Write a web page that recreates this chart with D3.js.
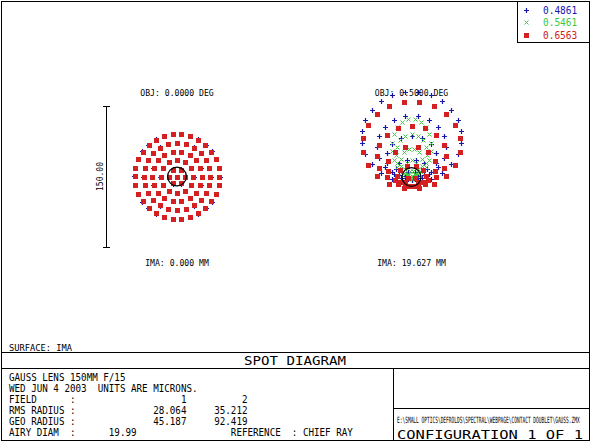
<!DOCTYPE html>
<html><head><meta charset="utf-8">
<script src="https://cdn.jsdelivr.net/npm/d3@7"></script>
<style>
html,body{margin:0;padding:0;background:#fff;}
svg{display:block;}
text{font-family:"DejaVu Sans Mono",monospace;}
</style></head><body>
<svg id="c" width="592" height="442"></svg>
<script>
// ---------------- DATA ----------------
const wavelengths = ["0.4861", "0.5461", "0.6563"];
const waveColors = ["#1818b0", "#40c840", "#d42020"];
const waveSymbols = ["plus", "cross", "square"];
const fieldNumbers = [1, 2];
const objLabels = ["OBJ: 0.0000 DEG", "OBJ: 0.5000 DEG"];
const imaLabels = ["IMA: 0.000 MM", "IMA: 19.627 MM"];
const rmsRadius = ["28.064", "35.212"];
const geoRadius = ["45.187", "92.419"];
const airyDiam = "19.99";
const scaleBarMicrons = 150;
const titleLines = ["GAUSS LENS 150MM F/15", "WED JUN 4 2003  UNITS ARE MICRONS."];
const referenceText = "REFERENCE  : CHIEF RAY";
const surfaceText = "SURFACE: IMA";
const plotTitle = "SPOT DIAGRAM";
const fileText = "E:\\SMALL OPTICS\\DEFROLDS\\SPECTRAL\\WEBPAGE\\CONTACT DOUBLET\\GAUSS.ZMX";
const configText = "CONFIGURATION 1 OF 1";

// Spot rings, in microns relative to the chief ray
// [centre dx, centre dy (up), radius x, radius y, number of rays, half-step offset]
const field1Blue  = [[0,0,0,0,1,0],[0,0,8.7,8.7,6,0],[0,0,17.8,17.8,12,0],[0,0,26.9,26.9,18,0],[0,0,35.7,35.7,24,0],[0,0,45.5,45.5,30,0]];
const field1Green = [[0,0,0,0,1,0],[0,0,8.5,8.5,6,0],[0,0,17.5,17.5,12,0],[0,0,26.6,26.6,18,0],[0,0,35.4,35.4,24,0],[0,0,45.2,45.2,30,0]];
const field1Red   = [[0,0,0,0,1,0],[0,0,8.5,8.5,6,0],[0,0,17.5,17.5,12,0],[0,0,26.6,26.6,18,0],[0,0,35.4,35.4,24,0],[0,0,45.2,45.2,30,0]];

const field2Blue  = [[0,-3.2,0,0,1,0],[0,1.1,6.4,4.3,6,0],[0,8.5,16.0,10.6,10,0],[0,20.2,26.6,23.4,14,0.5],[0,31.9,37.2,33.0,18,0],[0,42.6,53.2,47.9,24,0.5]];
const field2Green = [[0,-2.1,0,0,1,0],[0,2.7,3.7,4.8,6,0],[0,8.5,7.4,9.6,8,0],[0,15.4,11.7,15.4,12,0.5],[0,23.4,17.0,22.3,16,0],[0,31.9,21.3,29.8,20,0.5]];
const field2Red   = [[0,-9.6,0,0,1,0],[0,-5.3,7.4,5.3,6,0],[0,1.1,14.9,11.7,10,0],[0,11.7,25.5,21.3,12,0.5],[0,22.3,37.2,31.9,16,0],[0,34.0,52.1,46.8,20,0.5]];

const spotFields = [
  [field1Blue, field1Green, field1Red],
  [field2Blue, field2Green, field2Red]
];

// ---------------- LAYOUT ----------------
const svg = d3.select("#c");
const fieldCentres = [{x: 177, y: 176.5}, {x: 411.5, y: 177}];
const halfPx = 70.5; // pixels for half of the scale bar

function monoText(sel, str, x, y, size, cw, opts = {}) {
  const sx = cw / (0.602 * size);
  const sy = opts.sy || 1;
  const t = sel.append("text")
    .attr("transform", `translate(${x},${y}) scale(${sx},${sy})`)
    .attr("font-size", size)
    .attr("fill", opts.fill || "#000")
    .text(str);
  if (opts.anchor) t.attr("text-anchor", opts.anchor);
  return t;
}

// frame
const frame = svg.append("g").attr("stroke", "#000").attr("stroke-width", 1).attr("fill", "none")
  .attr("shape-rendering", "crispEdges");
frame.append("rect").attr("x", 1.5).attr("y", 1.5).attr("width", 588).attr("height", 439);
frame.append("line").attr("x1", 517.5).attr("x2", 517.5).attr("y1", 1.5).attr("y2", 42.5);
frame.append("line").attr("x1", 517.5).attr("x2", 589.5).attr("y1", 42.5).attr("y2", 42.5);
frame.append("line").attr("x1", 1.5).attr("x2", 589.5).attr("y1", 352.5).attr("y2", 352.5);
frame.append("line").attr("x1", 1.5).attr("x2", 589.5).attr("y1", 368.5).attr("y2", 368.5);
frame.append("line").attr("x1", 393.5).attr("x2", 393.5).attr("y1", 368.5).attr("y2", 440.5);
frame.append("line").attr("x1", 393.5).attr("x2", 589.5).attr("y1", 408.5).attr("y2", 408.5);

// symbol drawing
function drawSymbol(g, kind, x, y, color) {
  const px = Math.round(x) + 0.5, py = Math.round(y) + 0.5;
  if (kind === "plus") {
    g.append("path").attr("d", `M${px-2.5},${py}H${px+2.5}M${px},${py-2.5}V${py+2.5}`)
      .attr("stroke", color).attr("stroke-width", 1.2).attr("fill", "none");
  } else if (kind === "cross") {
    g.append("path").attr("d", `M${px-2},${py-2}L${px+2},${py+2}M${px-2},${py+2}L${px+2},${py-2}`)
      .attr("stroke", color).attr("stroke-width", 1).attr("fill", "none");
  } else {
    g.append("rect").attr("x", px - 2.5).attr("y", py - 2.5).attr("width", 5).attr("height", 5)
      .attr("fill", color);
  }
}

// spots
const spotsG = svg.append("g");
const scales = fieldCentres.map(c => ({
  x: d3.scaleLinear().domain([-scaleBarMicrons / 2, scaleBarMicrons / 2]).range([c.x - halfPx, c.x + halfPx]),
  y: d3.scaleLinear().domain([-scaleBarMicrons / 2, scaleBarMicrons / 2]).range([c.y + halfPx, c.y - halfPx])
}));

for (let w = 0; w < wavelengths.length; w++) {
  spotFields.forEach((fieldRings, f) => {
    const sc = scales[f];
    fieldRings[w].forEach(r => {
      const [dx, dy, rx, ry, n, off] = r;
      for (let k = 0; k < n; k++) {
        const a = (k + off) * 2 * Math.PI / n;
        const ux = dx + rx * Math.cos(a);
        const uy = dy + ry * Math.sin(a);
        drawSymbol(spotsG, waveSymbols[w], sc.x(ux), sc.y(uy), waveColors[w]);
      }
    });
  });
}

// airy circles
fieldCentres.forEach((c, f) => {
  const sc = scales[f];
  svg.append("circle").attr("cx", sc.x(0)).attr("cy", sc.y(0))
    .attr("r", sc.x(+airyDiam / 2) - sc.x(0))
    .attr("fill", "none").attr("stroke", "#000").attr("stroke-width", 1.3);
});

// field labels
fieldCentres.forEach((c, f) => {
  monoText(svg, objLabels[f], c.x, 96, 9, 4.9, {anchor: "middle"});
  monoText(svg, imaLabels[f], c.x, 265.5, 9, 4.9, {anchor: "middle"});
});

// scale bar
const sb = svg.append("g").attr("stroke", "#000").attr("stroke-width", 1).attr("shape-rendering", "crispEdges");
const sy = scales[0].y;
sb.append("line").attr("x1", 106.5).attr("x2", 106.5).attr("y1", sy(scaleBarMicrons / 2)).attr("y2", sy(-scaleBarMicrons / 2));
sb.append("line").attr("x1", 103).attr("x2", 110).attr("y1", Math.round(sy(scaleBarMicrons / 2)) + 0.5).attr("y2", Math.round(sy(scaleBarMicrons / 2)) + 0.5);
sb.append("line").attr("x1", 103).attr("x2", 110).attr("y1", Math.round(sy(-scaleBarMicrons / 2)) + 0.5).attr("y2", Math.round(sy(-scaleBarMicrons / 2)) + 0.5);
svg.append("text")
  .attr("transform", `translate(103,${sy(0)}) rotate(-90) scale(0.9,1)`)
  .attr("font-size", 9).attr("text-anchor", "middle")
  .text(d3.format(".2f")(scaleBarMicrons));

// legend
wavelengths.forEach((wl, i) => {
  const y = [10, 22, 35][i];
  drawSymbol(svg, waveSymbols[i], 526, y, waveColors[i]);
  monoText(svg, wl, 543, y + 4, 10, 5.7, {fill: waveColors[i]});
});

// bottom texts
monoText(svg, surfaceText, 9, 350.5, 8.7, 5.25);
svg.append("text").attr("x", 244).attr("y", 364.5).attr("font-size", 12)
  .attr("textLength", 102).attr("lengthAdjust", "spacingAndGlyphs").text(plotTitle);

const cw = 5.55, x0 = 9;
const lines = [
  titleLines[0],
  titleLines[1],
  "FIELD      :" + fieldNumbers.map((v, i) => String(v).padStart(i === 0 ? 20 : 11)).join(""),
  "RMS RADIUS :" + rmsRadius.map((v, i) => v.padStart(i === 0 ? 20 : 11)).join(""),
  "GEO RADIUS :" + geoRadius.map((v, i) => v.padStart(i === 0 ? 20 : 11)).join(""),
  "AIRY DIAM  :      " + airyDiam + " ".repeat(17) + referenceText
];
lines.forEach((s, i) => {
  monoText(svg, s, x0, 381 + i * 11, 10, cw).attr("xml:space", "preserve").style("white-space", "pre");
});

// file path: tiny glyphs stretched vertically so it fits the box
const fileSize = 183 / (0.602 * fileText.length);
svg.append("text")
  .attr("transform", `translate(397,423) scale(1,${(6.3 / (0.729 * fileSize)).toFixed(3)})`)
  .attr("font-size", fileSize.toFixed(3)).text(fileText);
svg.append("text").attr("x", 397).attr("y", 438.5).attr("font-size", 13)
  .attr("textLength", 186).attr("lengthAdjust", "spacingAndGlyphs").text(configText);
</script>
</body></html>
